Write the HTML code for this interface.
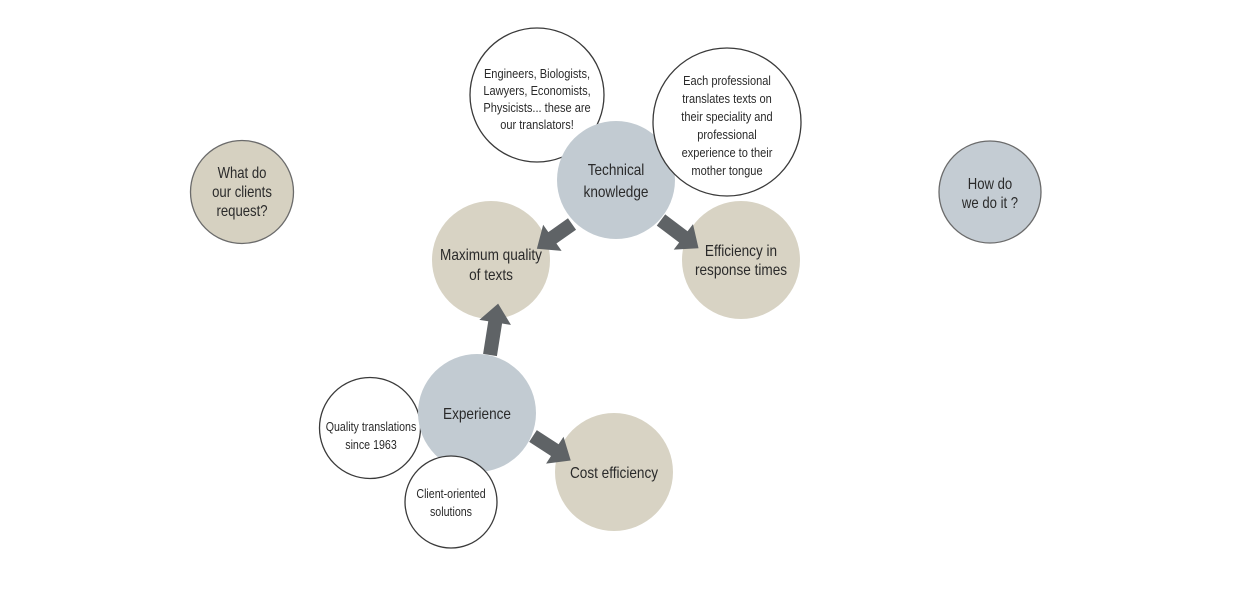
<!DOCTYPE html>
<html><head><meta charset="utf-8"><style>
html,body{margin:0;padding:0;background:#fff;}
svg{display:block}
text{font-family:"Liberation Sans",sans-serif;fill:#2a2a2a;text-anchor:middle}
</style></head><body>
<svg width="1233" height="600" viewBox="0 0 1233 600" xmlns="http://www.w3.org/2000/svg">
<circle cx="242" cy="192" r="51.5" fill="#d6d1c1" stroke="#6b6b6b" stroke-width="1.3"/>
<g transform="translate(242,192) scale(0.82,1)"><text y="-14" font-size="16">What do</text><text y="5" font-size="16">our clients</text><text y="24" font-size="16">request?</text></g>
<circle cx="990" cy="192" r="51" fill="#c4ccd3" stroke="#6b6b6b" stroke-width="1.3"/>
<g transform="translate(990,192) scale(0.82,1)"><text y="-3" font-size="16">How do</text><text y="16" font-size="16">we do it ?</text></g>

<circle cx="537" cy="95" r="67" fill="#fff" stroke="#3a3a3a" stroke-width="1.3"/>
<circle cx="370" cy="428" r="50.5" fill="#fff" stroke="#3a3a3a" stroke-width="1.3"/>

<circle cx="616" cy="180" r="59" fill="#c2cbd2"/>
<circle cx="727" cy="122" r="74" fill="#fff" stroke="#3a3a3a" stroke-width="1.3"/>
<circle cx="491" cy="260" r="59" fill="#d8d3c4"/>
<circle cx="741" cy="260" r="59" fill="#d8d3c4"/>
<circle cx="477" cy="413" r="59" fill="#c2cbd2"/>
<circle cx="451" cy="502" r="46" fill="#fff" stroke="#3a3a3a" stroke-width="1.3"/>
<circle cx="614" cy="472" r="59" fill="#d8d3c4"/>

<g fill="#5f6366">
<polygon transform="translate(572,224) rotate(144.8)" points="0,-7 24,-7 24,-16 43,0 24,16 24,7 0,7"/>
<polygon transform="translate(661,220) rotate(37)" points="0,-7 28,-7 28,-16 47,0 28,16 28,7 0,7"/>
<polygon transform="translate(490,355) rotate(-81)" points="0,-7 33,-7 33,-16 52,0 33,16 33,7 0,7"/>
<polygon transform="translate(533,436) rotate(33)" points="0,-7 26,-7 26,-16 45,0 26,16 26,7 0,7"/>
</g>

<g transform="translate(537,95) scale(0.85,1)" font-size="13">
<text y="-17">Engineers, Biologists,</text><text y="0">Lawyers, Economists,</text><text y="17">Physicists... these are</text><text y="34">our translators!</text></g>
<g transform="translate(727,122) scale(0.85,1)" font-size="13">
<text y="-37">Each professional</text><text y="-19">translates texts on</text><text y="-1">their speciality and</text><text y="17">professional</text><text y="35">experience to their</text><text y="53">mother tongue</text></g>
<g transform="translate(616,180) scale(0.85,1)" font-size="16">
<text y="-5">Technical</text><text y="17">knowledge</text></g>
<g transform="translate(491,260) scale(0.85,1)" font-size="16">
<text y="0">Maximum quality</text><text y="20">of texts</text></g>
<g transform="translate(741,260) scale(0.85,1)" font-size="16">
<text y="-4">Efficiency in</text><text y="15">response times</text></g>
<g transform="translate(477,413) scale(0.85,1)" font-size="16"><text y="6">Experience</text></g>
<g transform="translate(614,472) scale(0.85,1)" font-size="16"><text y="6">Cost efficiency</text></g>
<g transform="translate(371,428) scale(0.82,1)" font-size="13">
<text y="3">Quality translations</text><text y="21">since 1963</text></g>
<g transform="translate(451,502) scale(0.82,1)" font-size="13">
<text y="-4">Client-oriented</text><text y="14">solutions</text></g>
</svg>
</body></html>
